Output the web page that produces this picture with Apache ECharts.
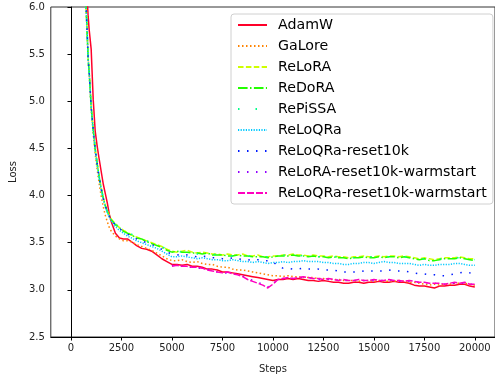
<!DOCTYPE html>
<html>
<head>
<meta charset="utf-8">
<script src="https://cdn.jsdelivr.net/npm/echarts@6/dist/echarts.min.js"></script>
<style>
  html, body { margin: 0; padding: 0; background: #fff; }
  .main { width: 495px; height: 379px; }
</style>
</head>
<body>
<div class="main"></div>
<script>
// training steps (shared x values)
const steps = [
    700, 800, 850, 900, 1000, 1100, 1200, 1300, 1400, 1500, 1600, 1700, 1800, 1900,
    2000, 2200, 2400, 2600, 2800, 3000, 3250, 3500, 3750, 4000, 4250, 4500, 4750,
    5000, 5250, 5500, 5750, 6000, 6250, 6500, 6750, 7000, 7250,
    7500, 7750, 8000, 8250, 8500, 8750, 9000, 9250, 9500, 9750,
    10000, 10250, 10500, 10750, 11000, 11250, 11500, 11750, 12000, 12250,
    12500, 12750, 13000, 13250, 13500, 13750, 14000, 14250, 14500, 14750,
    15000, 15250, 15500, 15750, 16000, 16250, 16500, 16750, 17000, 17250,
    17500, 17750, 18000, 18250, 18500, 18750, 19000, 19250, 19500, 19750,
    20000
];

const xTicks = [0, 2500, 5000, 7500, 10000, 12500, 15000, 17500, 20000];

const adamw = [
    6.60, 6.10, 5.90, 5.76, 5.55, 5.02, 4.68, 4.52, 4.38, 4.25, 4.12, 4.02, 3.92, 3.80,
    3.72, 3.60, 3.55, 3.54, 3.54, 3.51, 3.47, 3.44, 3.43, 3.41, 3.37, 3.33, 3.30,
    3.27, 3.27, 3.26, 3.27, 3.25, 3.25, 3.24, 3.22, 3.22, 3.21,
    3.19, 3.19, 3.18, 3.17, 3.16, 3.15, 3.14, 3.13, 3.12, 3.11,
    3.10, 3.11, 3.11, 3.12, 3.11, 3.12, 3.11, 3.10, 3.10, 3.09,
    3.10, 3.09, 3.08, 3.08, 3.07, 3.07, 3.08, 3.08, 3.07, 3.08,
    3.08, 3.09, 3.08, 3.08, 3.09, 3.08, 3.08, 3.07, 3.05, 3.04,
    3.04, 3.03, 3.02, 3.04, 3.04, 3.05, 3.05, 3.06, 3.06, 3.04,
    3.03
];

const galore = [
    6.20, 5.70, 5.45, 5.30, 4.92, 4.66, 4.44, 4.27, 4.12, 3.99, 3.88, 3.79, 3.72, 3.66,
    3.62, 3.57, 3.54, 3.52, 3.52, 3.51, 3.48, 3.46, 3.44, 3.42, 3.39, 3.36, 3.33,
    3.31, 3.31, 3.32, 3.30, 3.29, 3.30, 3.28, 3.27, 3.27, 3.25,
    3.24, 3.24, 3.22, 3.21, 3.21, 3.20, 3.19, 3.18, 3.17, 3.16,
    3.15, 3.15, 3.14, 3.15, 3.14, 3.14, 3.13, 3.13, 3.13, 3.12,
    3.12, 3.11, 3.11, 3.11, 3.10, 3.10, 3.10, 3.09, 3.10, 3.10,
    3.09, 3.10, 3.09, 3.09, 3.09, 3.10, 3.09, 3.08, 3.08, 3.07,
    3.06, 3.05, 3.06, 3.05, 3.06, 3.06, 3.07, 3.07, 3.07, 3.06,
    3.05
];

const relora = [
    6.25, 5.75, 5.45, 5.32, 4.95, 4.70, 4.50, 4.34, 4.20, 4.08, 3.98, 3.90, 3.84, 3.79,
    3.75, 3.70, 3.66, 3.63, 3.61, 3.58, 3.56, 3.54, 3.52, 3.50, 3.48, 3.46, 3.43,
    3.41, 3.40, 3.41, 3.42, 3.40, 3.39, 3.40, 3.39, 3.38, 3.38,
    3.37, 3.38, 3.37, 3.37, 3.38, 3.36, 3.36, 3.37, 3.35, 3.35,
    3.36, 3.36, 3.37, 3.37, 3.38, 3.37, 3.37, 3.36, 3.37, 3.36,
    3.36, 3.35, 3.36, 3.35, 3.35, 3.34, 3.35, 3.35, 3.36, 3.35,
    3.35, 3.36, 3.35, 3.36, 3.36, 3.35, 3.36, 3.35, 3.34, 3.33,
    3.34, 3.33, 3.32, 3.33, 3.34, 3.34, 3.34, 3.35, 3.34, 3.33,
    3.33
];

const redora = [
    6.25, 5.74, 5.44, 5.31, 4.94, 4.70, 4.49, 4.33, 4.19, 4.07, 3.97, 3.89, 3.83, 3.78,
    3.74, 3.69, 3.66, 3.62, 3.60, 3.58, 3.55, 3.54, 3.51, 3.49, 3.47, 3.45, 3.42,
    3.40, 3.41, 3.40, 3.40, 3.39, 3.39, 3.38, 3.39, 3.37, 3.37,
    3.37, 3.36, 3.36, 3.37, 3.36, 3.36, 3.35, 3.35, 3.35, 3.34,
    3.35, 3.36, 3.36, 3.36, 3.37, 3.36, 3.36, 3.35, 3.36, 3.35,
    3.35, 3.34, 3.35, 3.34, 3.34, 3.33, 3.34, 3.34, 3.35, 3.34,
    3.34, 3.35, 3.34, 3.35, 3.35, 3.34, 3.35, 3.34, 3.33, 3.32,
    3.33, 3.31, 3.31, 3.32, 3.33, 3.33, 3.33, 3.34, 3.33, 3.32,
    3.31
];

const repissa = [
    6.24, 5.74, 5.45, 5.31, 4.95, 4.71, 4.50, 4.33, 4.20, 4.08, 3.98, 3.89, 3.83, 3.79,
    3.75, 3.70, 3.66, 3.63, 3.61, 3.59, 3.56, 3.53, 3.52, 3.50, 3.47, 3.46, 3.43,
    3.41, 3.41, 3.40, 3.41, 3.40, 3.38, 3.39, 3.39, 3.38, 3.37,
    3.37, 3.37, 3.36, 3.37, 3.37, 3.36, 3.36, 3.36, 3.35, 3.35,
    3.35, 3.36, 3.37, 3.36, 3.37, 3.37, 3.36, 3.36, 3.36, 3.35,
    3.36, 3.35, 3.35, 3.35, 3.34, 3.34, 3.34, 3.35, 3.35, 3.35,
    3.35, 3.35, 3.35, 3.35, 3.36, 3.35, 3.35, 3.34, 3.34, 3.33,
    3.33, 3.32, 3.32, 3.33, 3.33, 3.34, 3.34, 3.34, 3.33, 3.33,
    3.32
];

const reloqra = [
    6.24, 5.73, 5.44, 5.30, 4.93, 4.69, 4.48, 4.32, 4.18, 4.06, 3.96, 3.88, 3.82, 3.77,
    3.73, 3.67, 3.63, 3.60, 3.57, 3.55, 3.52, 3.50, 3.48, 3.46, 3.44, 3.41, 3.38,
    3.35, 3.35, 3.36, 3.35, 3.34, 3.33, 3.34, 3.33, 3.32, 3.32,
    3.31, 3.31, 3.32, 3.31, 3.30, 3.30, 3.29, 3.30, 3.29, 3.28,
    3.29, 3.29, 3.30, 3.29, 3.30, 3.30, 3.31, 3.30, 3.30, 3.30,
    3.29, 3.29, 3.28, 3.28, 3.27, 3.27, 3.28, 3.28, 3.29, 3.29,
    3.28, 3.29, 3.30, 3.29, 3.29, 3.28, 3.28, 3.28, 3.27, 3.26,
    3.27, 3.26, 3.26, 3.27, 3.27, 3.27, 3.28, 3.28, 3.27, 3.26,
    3.26
];

const reloqraReset = [
    6.25, 5.74, 5.45, 5.31, 4.94, 4.70, 4.49, 4.33, 4.19, 4.07, 3.97, 3.89, 3.83, 3.78,
    3.74, 3.69, 3.65, 3.62, 3.59, 3.57, 3.54, 3.52, 3.50, 3.48, 3.46, 3.43, 3.40,
    3.38, 3.37, 3.38, 3.37, 3.36, 3.35, 3.36, 3.35, 3.34, 3.34,
    3.33, 3.33, 3.34, 3.33, 3.32, 3.32, 3.31, 3.32, 3.31, 3.31,
    3.30, 3.25, 3.23, 3.23, 3.22, 3.22, 3.23, 3.22, 3.22, 3.22,
    3.21, 3.21, 3.21, 3.20, 3.19, 3.19, 3.19, 3.19, 3.20, 3.20,
    3.20, 3.20, 3.20, 3.21, 3.20, 3.20, 3.20, 3.19, 3.18, 3.17,
    3.17, 3.16, 3.16, 3.15, 3.15, 3.16, 3.17, 3.18, 3.19, 3.18,
    3.17
];

// warmstart runs begin at 5000 steps
const reloraWarm = [
    null, null, null, null, null, null, null, null, null, null, null, null, null, null,
    null, null, null, null, null, null, null, null, null, null, null, null, null,
    3.26, 3.25, 3.25, 3.24, 3.24, 3.23, 3.23, 3.22, 3.20, 3.19,
    3.18, 3.18, 3.17, 3.16, 3.15, 3.12, 3.10, 3.08, 3.06, 3.03,
    3.07, 3.11, 3.12, 3.12, 3.12, 3.13, 3.13, 3.13, 3.12, 3.11,
    3.11, 3.11, 3.11, 3.10, 3.10, 3.10, 3.10, 3.10, 3.10, 3.09,
    3.10, 3.10, 3.10, 3.10, 3.10, 3.09, 3.09, 3.09, 3.09, 3.08,
    3.08, 3.07, 3.07, 3.06, 3.06, 3.07, 3.07, 3.07, 3.07, 3.06,
    3.06
];

const reloqraWarm = [
    null, null, null, null, null, null, null, null, null, null, null, null, null, null,
    null, null, null, null, null, null, null, null, null, null, null, null, null,
    3.25, 3.26, 3.25, 3.25, 3.24, 3.24, 3.23, 3.21, 3.20, 3.19,
    3.18, 3.19, 3.17, 3.16, 3.14, 3.11, 3.09, 3.07, 3.05, 3.02,
    3.06, 3.11, 3.12, 3.13, 3.12, 3.13, 3.14, 3.13, 3.12, 3.12,
    3.11, 3.12, 3.11, 3.10, 3.11, 3.10, 3.10, 3.11, 3.10, 3.10,
    3.11, 3.10, 3.10, 3.11, 3.10, 3.10, 3.09, 3.10, 3.09, 3.08,
    3.08, 3.07, 3.07, 3.07, 3.06, 3.07, 3.08, 3.07, 3.08, 3.06,
    3.06
];

const names = [
    'AdamW', 'GaLore', 'ReLoRA', 'ReDoRA', 'RePiSSA', 'ReLoQRa',
    'ReLoQRa-reset10k', 'ReLoRA-reset10k-warmstart', 'ReLoQRa-reset10k-warmstart'
];
const values = [adamw, galore, relora, redora, repissa, reloqra, reloqraReset, reloraWarm, reloqraWarm];
const colors = ['#ff0029', '#ff8300', '#cfff00', '#22ff00', '#00ff89', '#00c9ff', '#001cff', '#9100ff', '#ff00bf'];
const dashes = [
    'solid', [1.5, 2.5], [5.5, 2.4], [9.6, 2.4, 1.5, 2.4], [1.5, 16],
    [1.2, 1.4], [1.5, 7.5], [1.5, 7.5], [7, 2]
];

let main = document.querySelector('.main');
let myChart = echarts.init(main, null, { renderer: 'canvas' });

let series = names.map(function(name, k) {
    let data = [];
    steps.forEach(function(s, i) {
        if (values[k][i] !== null) {
            data.push([s, values[k][i]]);
        }
    });
    return {
        name: name,
        type: 'line',
        data: data,
        symbol: 'none',
        showSymbol: false,
        clip: true,
        lineStyle: { color: colors[k], width: 1.5, type: dashes[k] },
        itemStyle: { color: colors[k] }
    };
});

let axisFont = { fontFamily: 'DejaVu Sans', fontSize: 10, color: '#222' };

let options = {
    animation: false,
    backgroundColor: '#fff',
    grid: {
        left: 44, top: 7, width: 456, height: 339,
        show: true, borderColor: '#333', borderWidth: 1, backgroundColor: 'transparent'
    },
    legend: {
        orient: 'vertical',
        left: 231, top: 14,
        padding: [4, 6, 4, 6],
        itemWidth: 29, itemHeight: 14, itemGap: 7,
        backgroundColor: 'rgba(255,255,255,0.85)',
        borderColor: '#d0d0d0', borderWidth: 1, borderRadius: 3,
        itemStyle: { opacity: 0 },
        textStyle: { fontFamily: 'DejaVu Sans', fontSize: 14.2, color: '#000', lineHeight: 14, padding: [0, 0, 0, 6] },
        data: names
    },
    xAxis: {
        type: 'value',
        min: -1000, max: 21000,
        name: 'Steps', nameLocation: 'middle', nameGap: 27,
        nameTextStyle: axisFont,
        axisLine: { lineStyle: { color: '#000', width: 1 } },
        axisTick: { length: 3.5, customValues: xTicks, lineStyle: { color: '#000' } },
        axisLabel: Object.assign({
            customValues: xTicks, margin: 6,
            formatter: function(v) { return String(v); }
        }, axisFont),
        splitLine: { show: false }
    },
    yAxis: {
        type: 'value',
        min: 2.5, max: 6.0, interval: 0.5,
        name: 'Loss', nameLocation: 'middle', nameGap: 32,
        nameTextStyle: axisFont,
        axisLine: { show: true, lineStyle: { color: '#000', width: 1 } },
        axisTick: { show: true, length: 3.5, lineStyle: { color: '#000' } },
        axisLabel: Object.assign({
            margin: 6,
            formatter: function(v) { return v.toFixed(1); }
        }, axisFont),
        splitLine: { show: false }
    },
    series: series
};

myChart.setOption(options);
</script>
</body>
</html>
